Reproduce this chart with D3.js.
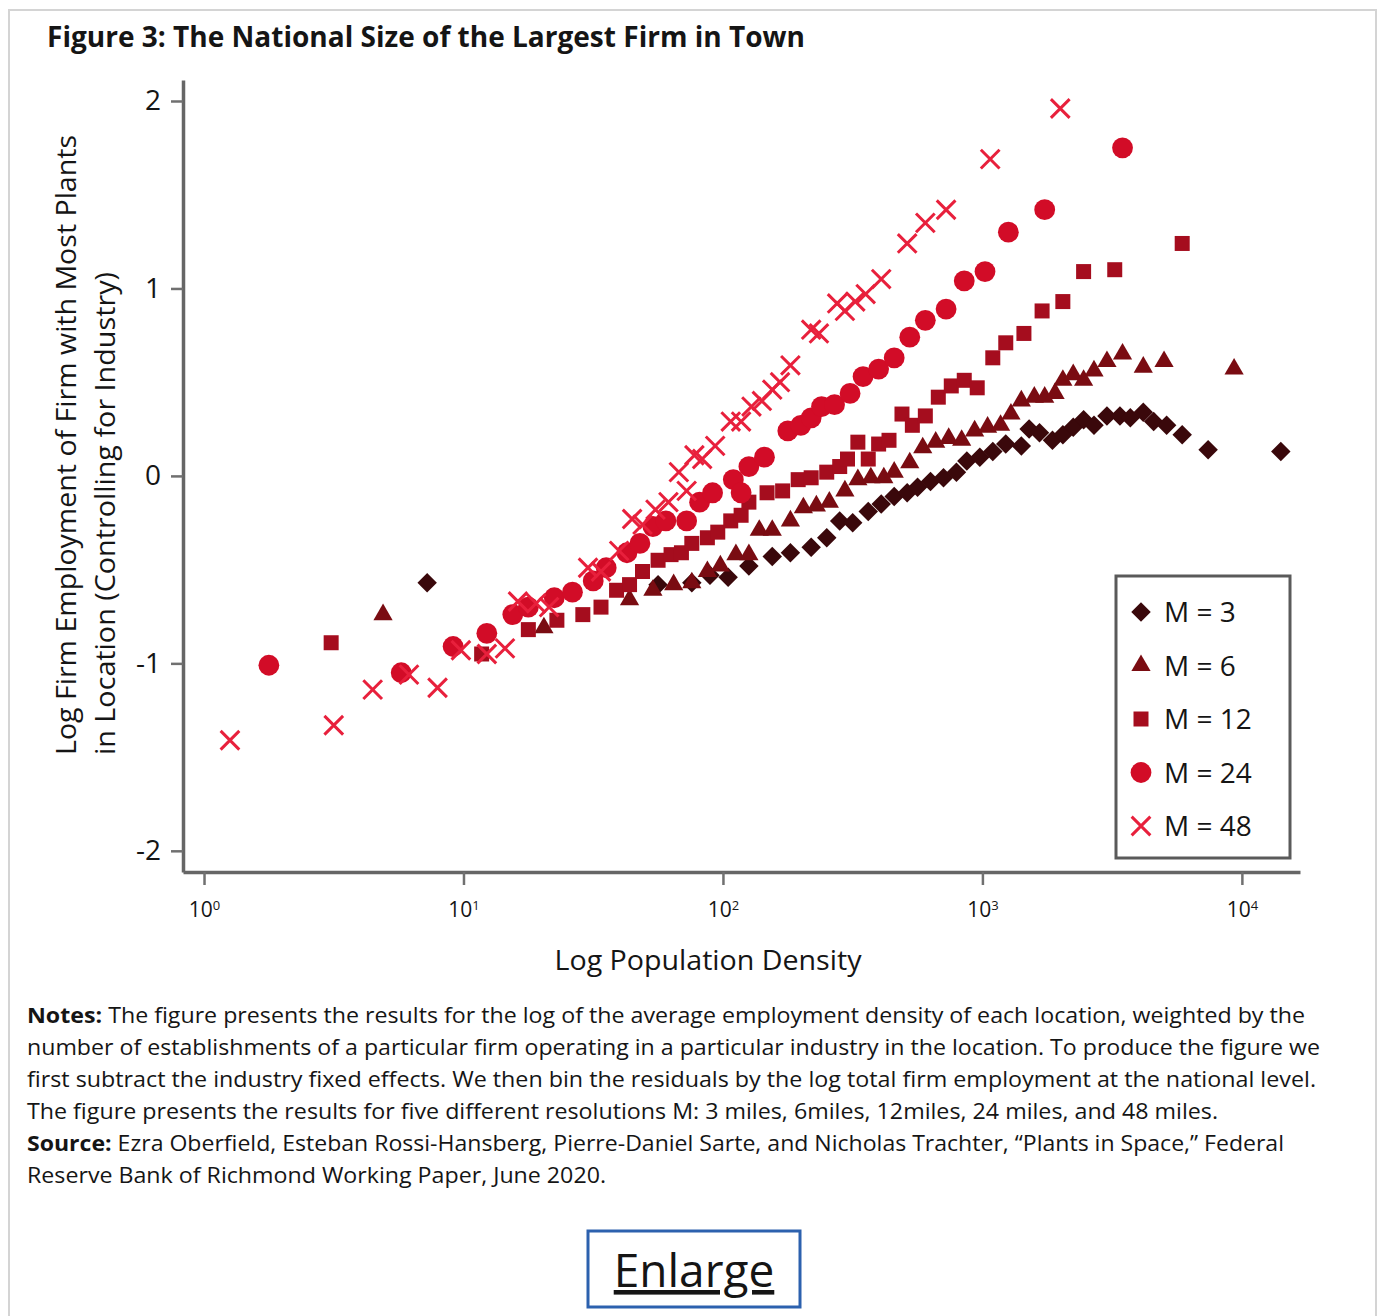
<!DOCTYPE html>
<html lang="en">
<head>
<meta charset="UTF-8">
<title>Figure 3: The National Size of the Largest Firm in Town</title>
<script src="https://d3js.org/d3.v7.min.js"></script>
<style>
    body { margin: 0; background: #fff; }
    svg text { font-family: "Open Sans", sans-serif; fill: #151515; }
</style>
</head>
<body>
<script>
// [log10 population density, log firm employment]
const m3 = [[0.86,-0.57],[1.75,-0.58],[1.88,-0.57],[1.95,-0.53],[2.02,-0.54],[2.10,-0.48],[2.19,-0.43],[2.26,-0.41],[2.34,-0.38],[2.40,-0.33],[2.45,-0.24],[2.50,-0.25],[2.56,-0.19],[2.61,-0.15],[2.66,-0.11],[2.71,-0.09],[2.75,-0.06],[2.80,-0.03],[2.85,-0.01],[2.90,0.02],[2.94,0.08],[2.99,0.10],[3.04,0.13],[3.09,0.17],[3.15,0.16],[3.18,0.25],[3.22,0.23],[3.27,0.19],[3.31,0.22],[3.35,0.26],[3.39,0.30],[3.43,0.27],[3.48,0.32],[3.53,0.32],[3.57,0.31],[3.62,0.34],[3.66,0.29],[3.71,0.27],[3.77,0.22],[3.87,0.14],[4.15,0.13]];
const m6 = [[0.69,-0.74],[1.31,-0.81],[1.64,-0.66],[1.73,-0.61],[1.81,-0.58],[1.88,-0.57],[1.94,-0.51],[1.99,-0.48],[2.05,-0.42],[2.10,-0.42],[2.14,-0.29],[2.19,-0.29],[2.26,-0.24],[2.31,-0.17],[2.36,-0.16],[2.41,-0.14],[2.47,-0.08],[2.52,-0.02],[2.57,-0.01],[2.62,-0.01],[2.66,0.02],[2.72,0.07],[2.77,0.15],[2.82,0.18],[2.87,0.20],[2.92,0.19],[2.97,0.24],[3.02,0.26],[3.07,0.27],[3.11,0.33],[3.15,0.40],[3.20,0.42],[3.24,0.42],[3.28,0.44],[3.31,0.51],[3.35,0.54],[3.39,0.51],[3.43,0.56],[3.48,0.61],[3.54,0.65],[3.62,0.58],[3.70,0.61],[3.97,0.57]];
const m12 = [[0.49,-0.89],[1.07,-0.95],[1.25,-0.82],[1.36,-0.77],[1.46,-0.74],[1.53,-0.70],[1.59,-0.61],[1.64,-0.58],[1.69,-0.51],[1.75,-0.45],[1.80,-0.42],[1.84,-0.41],[1.88,-0.36],[1.94,-0.33],[1.98,-0.30],[2.03,-0.24],[2.07,-0.21],[2.10,-0.14],[2.17,-0.09],[2.23,-0.08],[2.29,-0.02],[2.34,-0.01],[2.40,0.02],[2.45,0.05],[2.48,0.09],[2.52,0.18],[2.56,0.09],[2.60,0.17],[2.64,0.19],[2.69,0.33],[2.73,0.27],[2.78,0.32],[2.83,0.42],[2.88,0.48],[2.93,0.51],[2.98,0.47],[3.04,0.63],[3.09,0.71],[3.16,0.76],[3.23,0.88],[3.31,0.93],[3.39,1.09],[3.51,1.10],[3.77,1.24]];
const m24 = [[0.25,-1.01],[0.76,-1.05],[0.96,-0.91],[1.09,-0.84],[1.19,-0.74],[1.25,-0.70],[1.35,-0.65],[1.42,-0.62],[1.50,-0.56],[1.55,-0.49],[1.63,-0.41],[1.68,-0.36],[1.73,-0.27],[1.78,-0.24],[1.86,-0.24],[1.91,-0.14],[1.96,-0.09],[2.04,-0.02],[2.07,-0.09],[2.10,0.05],[2.16,0.10],[2.25,0.24],[2.30,0.27],[2.34,0.31],[2.38,0.37],[2.43,0.38],[2.49,0.44],[2.54,0.53],[2.60,0.57],[2.66,0.63],[2.72,0.74],[2.78,0.83],[2.86,0.89],[2.93,1.04],[3.01,1.09],[3.10,1.30],[3.24,1.42],[3.54,1.75]];
const m48 = [[0.10,-1.41],[0.50,-1.33],[0.65,-1.14],[0.79,-1.06],[0.90,-1.13],[0.99,-0.93],[1.09,-0.95],[1.16,-0.92],[1.21,-0.67],[1.28,-0.68],[1.33,-0.70],[1.48,-0.49],[1.53,-0.51],[1.60,-0.40],[1.65,-0.23],[1.69,-0.26],[1.74,-0.18],[1.79,-0.14],[1.83,0.02],[1.86,-0.08],[1.89,0.11],[1.92,0.09],[1.97,0.16],[2.03,0.29],[2.07,0.29],[2.11,0.37],[2.15,0.40],[2.19,0.46],[2.22,0.50],[2.26,0.59],[2.34,0.78],[2.37,0.76],[2.44,0.92],[2.47,0.88],[2.51,0.93],[2.55,0.97],[2.61,1.05],[2.71,1.24],[2.78,1.35],[2.86,1.42],[3.03,1.69],[3.30,1.96]];

const seriesLabels = ["M = 3", "M = 6", "M = 12", "M = 24", "M = 48"];
const seriesColors = ["#3a080b", "#7a0c12", "#a50d1e", "#d20c27", "#e8203c"];
const xTicks = [0, 1, 2, 3, 4];
const yTicks = [2, 1, 0, -1, -2];

const noteLines = [
    [["Notes:", true], [" The figure presents the results for the log of the average employment density of each location, weighted by the", false]],
    [["number of establishments of a particular firm operating in a particular industry in the location. To produce the figure we", false]],
    [["first subtract the industry fixed effects. We then bin the residuals by the log total firm employment at the national level.", false]],
    [["The figure presents the results for five different resolutions M: 3 miles, 6miles, 12miles, 24 miles, and 48 miles.", false]],
    [["Source:", true], [" Ezra Oberfield, Esteban Rossi-Hansberg, Pierre-Daniel Sarte, and Nicholas Trachter, \u201cPlants in Space,\u201d Federal", false]],
    [["Reserve Bank of Richmond Working Paper, June 2020.", false]]
];
const noteWidths = [1278, 1293, 1289, 1191, 1257, 579];

const series = [m3, m6, m12, m24, m48];

const svg = d3.select("body").append("svg")
    .attr("width", 1379)
    .attr("height", 1316);

// page frame
svg.append("rect")
    .attr("x", 9).attr("y", 10)
    .attr("width", 1367).attr("height", 1330)
    .attr("fill", "none")
    .attr("stroke", "#d4d4d4")
    .attr("stroke-width", 2);

svg.append("text")
    .attr("x", 47).attr("y", 47)
    .attr("font-size", 28)
    .attr("font-weight", 700)
    .attr("textLength", 758)
    .attr("lengthAdjust", "spacingAndGlyphs")
    .text("Figure 3: The National Size of the Largest Firm in Town");

// scales: domain stretched so the axis lines reach past the ticks
const x = d3.scaleLinear().domain([-0.081, 4.224]).range([183, 1300]);
const y = d3.scaleLinear().domain([-2.113, 2.112]).range([872, 80]);

const yAxis = svg.append("g")
    .attr("transform", "translate(183,0)")
    .call(d3.axisLeft(y).tickValues(yTicks).tickSize(12).tickSizeOuter(0).tickPadding(10)
        .tickFormat(d => String(d)));

const xAxis = svg.append("g")
    .attr("transform", "translate(0,872)")
    .call(d3.axisBottom(x).tickValues(xTicks).tickSize(13).tickSizeOuter(0).tickPadding(17)
        .tickFormat(() => "10"));

[yAxis, xAxis].forEach(a => {
    a.attr("font-family", null).attr("font-size", null);
    a.select(".domain").attr("stroke", "#666").attr("stroke-width", 3.5);
    a.selectAll(".tick line").attr("stroke", "#707070").attr("stroke-width", 2.5);
    a.selectAll(".tick text").attr("fill", "#1a1a1a");
});
yAxis.selectAll(".tick text").attr("font-size", 28);
xAxis.selectAll(".tick text").attr("font-size", 21)
    .each(function (d) {
        d3.select(this).append("tspan")
            .attr("dy", "-0.5em")
            .attr("font-size", 13)
            .text(d);
    });

// axis titles
svg.append("text")
    .attr("transform", "translate(76,755) rotate(-90)")
    .attr("font-size", 28)
    .attr("textLength", 620)
    .attr("lengthAdjust", "spacingAndGlyphs")
    .text("Log Firm Employment of Firm with Most Plants");
svg.append("text")
    .attr("transform", "translate(115,755) rotate(-90)")
    .attr("font-size", 28)
    .attr("textLength", 483)
    .attr("lengthAdjust", "spacingAndGlyphs")
    .text("in Location (Controlling for Industry)");

svg.append("text")
    .attr("x", 708).attr("y", 970)
    .attr("text-anchor", "middle")
    .attr("font-size", 28)
    .attr("textLength", 307)
    .attr("lengthAdjust", "spacingAndGlyphs")
    .text("Log Population Density");

// marker shapes
const shapes = [
    { type: d3.symbolSquare, size: 190, rot: 45, stroke: false },
    { type: d3.symbolTriangle, size: 160, rot: 0, stroke: false },
    { type: d3.symbolSquare, size: 225, rot: 0, stroke: false },
    { type: d3.symbolCircle, size: 340, rot: 0, stroke: false },
    { type: d3.symbolTimes, size: 230, rot: 0, stroke: true }
];

function drawMark(sel, i) {
    const s = shapes[i];
    sel.attr("d", d3.symbol().type(s.type).size(s.size)())
        .attr("fill", s.stroke ? "none" : seriesColors[i])
        .attr("stroke", s.stroke ? seriesColors[i] : "none")
        .attr("stroke-width", s.stroke ? 3 : 0);
}

const plot = svg.append("g");
series.forEach((data, i) => {
    plot.append("g")
        .selectAll("path")
        .data(data)
        .enter()
        .append("path")
        .attr("transform", d => "translate(" + x(d[0]) + "," + y(d[1]) + ") rotate(" + shapes[i].rot + ")")
        .call(drawMark, i);
});

// legend
const legendY = d3.scalePoint().domain(seriesLabels).range([612, 826]);
const legend = svg.append("g");
legend.append("rect")
    .attr("x", 1116).attr("y", 576)
    .attr("width", 174).attr("height", 282)
    .attr("fill", "#fff")
    .attr("stroke", "#5a5a5a")
    .attr("stroke-width", 3);
seriesLabels.forEach((lab, i) => {
    legend.append("path")
        .attr("transform", "translate(1141," + legendY(lab) + ") rotate(" + shapes[i].rot + ")")
        .call(drawMark, i);
    legend.append("text")
        .attr("x", 1164).attr("y", legendY(lab) + 10)
        .attr("font-size", 28)
        .text(lab);
});

// notes
const notes = svg.append("g");
noteLines.forEach((parts, i) => {
    const t = notes.append("text")
        .attr("x", 27).attr("y", 1023 + i * 32)
        .attr("font-size", 21)
        .attr("textLength", noteWidths[i])
        .attr("lengthAdjust", "spacingAndGlyphs");
    parts.forEach(p => {
        t.append("tspan")
            .attr("font-weight", p[1] ? 700 : 400)
            .text(p[0]);
    });
});

// enlarge button
svg.append("rect")
    .attr("x", 588).attr("y", 1231)
    .attr("width", 212).attr("height", 76)
    .attr("fill", "none")
    .attr("stroke", "#2c61ae")
    .attr("stroke-width", 3);
svg.append("text")
    .attr("x", 694).attr("y", 1287)
    .attr("text-anchor", "middle")
    .attr("font-size", 46)
    .attr("text-decoration", "underline")
    .attr("fill", "#111")
    .text("Enlarge");
</script>
</body>
</html>
